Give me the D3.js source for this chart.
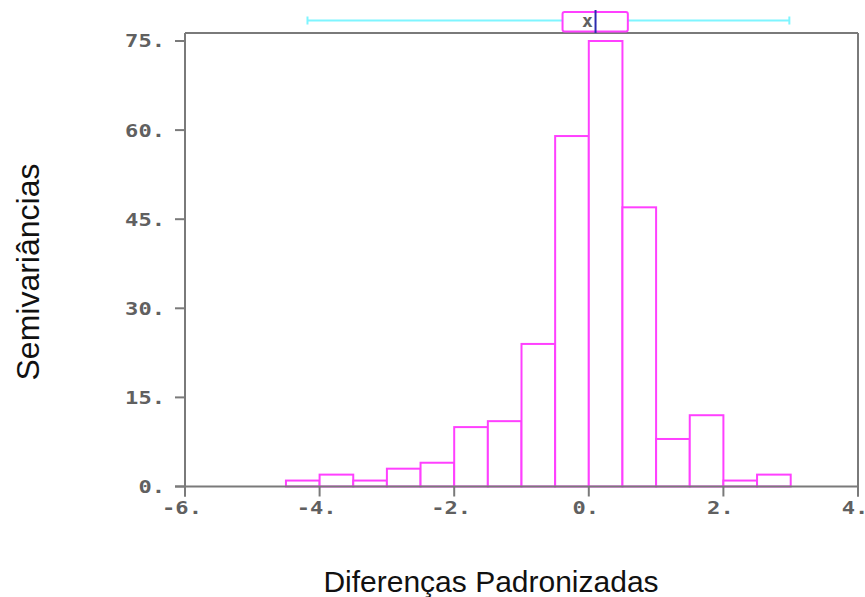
<!DOCTYPE html>
<html>
<head>
<meta charset="utf-8">
<script src="https://cdn.jsdelivr.net/npm/d3@7"></script>
<style>
  html, body { margin: 0; padding: 0; background: #fff; }
  svg { display: block; }
</style>
</head>
<body>
<svg id="chart" width="865" height="597"></svg>
<script>
// Histogram of standardized differences: bin edges (width 0.5) and counts
const binStarts = [-4.5, -4.0, -3.5, -3.0, -2.5, -2.0, -1.5, -1.0, -0.5, 0.0, 0.5, 1.0, 1.5, 2.0, 2.5];
const binWidth = 0.5;
const counts = [1, 2, 1, 3, 4, 10, 11, 24, 59, 75, 47, 8, 12, 1, 2];

// Box-plot summary shown above the histogram
const whiskers = [-4.18, 2.98];
const quartiles = [-0.39, 0.58];
const median = 0.1;
const mean = -0.02;

// Axis ticks and labels
const xTicks = [-6, -4, -2, 0, 2, 4];
const xTickLabels = ["-6.", "-4.", "-2.", "0.", "2.", "4."];
const yTicks = [0, 15, 30, 45, 60, 75];
const yTickLabels = ["0.", "15.", "30.", "45.", "60.", "75."];

const xTitle = "Diferenças Padronizadas";
const yTitle = "Semivariâncias";

const svg = d3.select("#chart");

const x = d3.scaleLinear().domain([-6, 4]).range([185, 858]);
const y = d3.scaleLinear().domain([0, 75]).range([486.5, 41]);
const frameTop = 33;

const magenta = "#ff40ff";
const axisGray = "#7a7a7a";
const labelGray = "#606060";
const tickFont = "'DejaVu Sans Mono', monospace";

// Histogram bars
svg.append("g")
  .selectAll("rect")
  .data(counts)
  .join("rect")
  .attr("x", (d, i) => x(binStarts[i]))
  .attr("width", (d, i) => x(binStarts[i] + binWidth) - x(binStarts[i]))
  .attr("y", d => y(d))
  .attr("height", d => y(0) - y(d))
  .attr("fill", "#fff")
  .attr("stroke", magenta)
  .attr("stroke-width", 2);

// Frame: left, top, right, bottom
const frame = svg.append("g").attr("stroke", axisGray).attr("stroke-width", 2).attr("fill", "none");
frame.append("line").attr("x1", x(-6)).attr("x2", x(-6)).attr("y1", frameTop).attr("y2", y(0) + 10);
frame.append("line").attr("x1", x(-6)).attr("x2", x(4)).attr("y1", frameTop).attr("y2", frameTop);
frame.append("line").attr("x1", x(4)).attr("x2", x(4)).attr("y1", frameTop).attr("y2", y(0) + 10);
frame.append("line").attr("x1", x(-6) - 10).attr("x2", x(4)).attr("y1", y(0)).attr("y2", y(0));

// Y ticks and labels
const yAxis = svg.append("g");
yAxis.selectAll("line")
  .data(yTicks)
  .join("line")
  .attr("x1", x(-6) - 10).attr("x2", x(-6))
  .attr("y1", d => y(d)).attr("y2", d => y(d))
  .attr("stroke", axisGray).attr("stroke-width", 2);
yAxis.selectAll("text")
  .data(yTicks)
  .join("text")
  .attr("x", 165)
  .attr("y", d => y(d))
  .attr("dy", "0.36em")
  .attr("text-anchor", "end")
  .attr("font-family", tickFont)
  .attr("font-weight", "bold")
  .attr("font-size", 18)
  .attr("fill", labelGray)
  .attr("textLength", (d, i) => yTickLabels[i].length * 13.3)
  .attr("lengthAdjust", "spacingAndGlyphs")
  .text((d, i) => yTickLabels[i]);

// X ticks and labels
const xAxis = svg.append("g");
xAxis.selectAll("line")
  .data(xTicks)
  .join("line")
  .attr("x1", d => x(d)).attr("x2", d => x(d))
  .attr("y1", y(0)).attr("y2", y(0) + 10)
  .attr("stroke", axisGray).attr("stroke-width", 2);
xAxis.selectAll("text")
  .data(xTicks)
  .join("text")
  .attr("x", d => x(d) - 3)
  .attr("y", 508)
  .attr("dy", "0.36em")
  .attr("text-anchor", "middle")
  .attr("font-family", tickFont)
  .attr("font-weight", "bold")
  .attr("font-size", 18)
  .attr("fill", labelGray)
  .attr("textLength", (d, i) => xTickLabels[i].length * 13.3)
  .attr("lengthAdjust", "spacingAndGlyphs")
  .text((d, i) => xTickLabels[i]);

// Box plot above the frame
const bpY = 20.5;
const bp = svg.append("g");
bp.append("line")
  .attr("x1", x(whiskers[0])).attr("x2", x(quartiles[0]))
  .attr("y1", bpY).attr("y2", bpY)
  .attr("stroke", "#7ff5ff").attr("stroke-width", 2);
bp.append("line")
  .attr("x1", x(quartiles[1])).attr("x2", x(whiskers[1]))
  .attr("y1", bpY).attr("y2", bpY)
  .attr("stroke", "#7ff5ff").attr("stroke-width", 2);
bp.selectAll("line.cap")
  .data(whiskers)
  .join("line")
  .attr("class", "cap")
  .attr("x1", d => x(d)).attr("x2", d => x(d))
  .attr("y1", bpY - 4).attr("y2", bpY + 4)
  .attr("stroke", "#7ff5ff").attr("stroke-width", 2);
bp.append("rect")
  .attr("x", x(quartiles[0]))
  .attr("width", x(quartiles[1]) - x(quartiles[0]))
  .attr("y", 12).attr("height", 19.5)
  .attr("rx", 2)
  .attr("fill", "#fff")
  .attr("stroke", magenta).attr("stroke-width", 2);
bp.append("text")
  .attr("x", x(mean))
  .attr("y", bpY)
  .attr("dy", "0.36em")
  .attr("text-anchor", "middle")
  .attr("font-family", tickFont)
  .attr("font-weight", "bold")
  .attr("font-size", 18)
  .attr("fill", "#606060")
  .text("x");
bp.append("line")
  .attr("x1", x(median)).attr("x2", x(median))
  .attr("y1", 10).attr("y2", frameTop)
  .attr("stroke", "#2b2bb0").attr("stroke-width", 2);

// Axis titles
svg.append("text")
  .attr("x", 491)
  .attr("y", 592)
  .attr("text-anchor", "middle")
  .attr("font-family", "'Liberation Sans', Arial, sans-serif")
  .attr("font-size", 30)
  .attr("fill", "#111")
  .text(xTitle);
svg.append("text")
  .attr("transform", "translate(39,272) rotate(-90)")
  .attr("text-anchor", "middle")
  .attr("font-family", "'Liberation Sans', Arial, sans-serif")
  .attr("font-size", 32)
  .attr("fill", "#111")
  .text(yTitle);
</script>
</body>
</html>
